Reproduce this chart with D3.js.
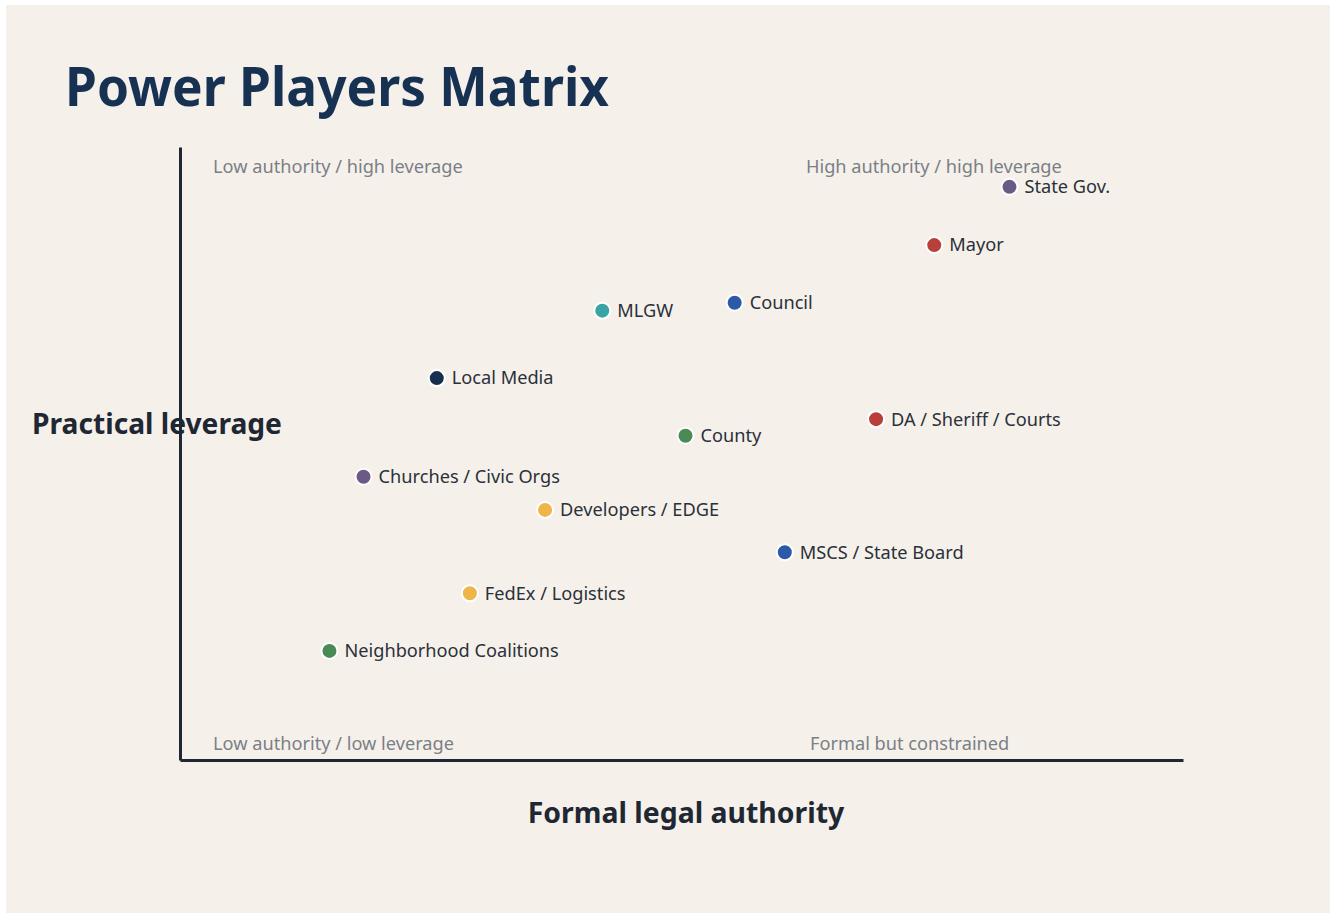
<!DOCTYPE html>
<html>
<head>
<meta charset="utf-8">
<script src="https://cdn.jsdelivr.net/npm/d3@7"></script>
<style>
  html, body { margin: 0; padding: 0; background: #ffffff; }
  #chart { position: absolute; left: 6px; top: 5px; }
  text { font-family: "Noto Sans", "Open Sans", sans-serif; }
</style>
</head>
<body>
<div id="chart"></div>
<script>
const players = ["State Gov.", "Mayor", "Council", "MLGW", "Local Media", "DA / Sheriff / Courts", "County",
  "Churches / Civic Orgs", "Developers / EDGE", "MSCS / State Board", "FedEx / Logistics", "Neighborhood Coalitions"];
const authority = [8.27, 7.52, 5.53, 4.21, 2.56, 6.94, 5.04, 1.83, 3.64, 6.03, 2.89, 1.49];
const leverage  = [9.35, 8.40, 7.46, 7.33, 6.23, 5.56, 5.29, 4.62, 4.08, 3.39, 2.72, 1.78];
const colors = ["#6b5a85", "#b83f3a", "#2d5aa8", "#3aa3a4", "#172e4c", "#b83f3a", "#4a8a57",
  "#6b5a85", "#efb548", "#2d5aa8", "#efb548", "#4a8a57"];
const quadrantLabels = ["Low authority / high leverage", "High authority / high leverage",
  "Low authority / low leverage", "Formal but constrained"];
const title = "Power Players Matrix";
const xTitle = "Formal legal authority";
const yTitle = "Practical leverage";

const W = 1324, H = 908;
const svg = d3.select("#chart").append("svg").attr("width", W).attr("height", H);
svg.append("rect").attr("width", W).attr("height", H).attr("fill", "#f5f1ea");

// plot area in svg coords (page coords minus offset 6,5)
const pLeft = 174, pRight = 1177, pTop = 142, pBottom = 755;
const x = d3.scaleLinear().domain([0, 10]).range([pLeft, pRight]);
const y = d3.scaleLinear().domain([0, 10]).range([pBottom, pTop]);

svg.append("text").attr("x", 59).attr("y", 101)
  .attr("font-size", 53).attr("font-weight", 700).attr("fill", "#173152")
  .attr("textLength", 544).attr("lengthAdjust", "spacingAndGlyphs").text(title);

// axes
const xAxis = d3.axisBottom(x).tickValues([]).tickSizeOuter(0);
const yAxis = d3.axisLeft(y).tickValues([]).tickSizeOuter(0);
svg.append("g").attr("transform", `translate(0,${pBottom})`).call(xAxis)
  .select(".domain").attr("stroke", "#1f2733").attr("stroke-width", 3);
svg.append("g").attr("transform", `translate(${pLeft},0)`).call(yAxis)
  .select(".domain").attr("stroke", "#1f2733").attr("stroke-width", 3);

// quadrant labels
const qPos = [[pLeft + 33, pTop + 26], [pLeft + 626, pTop + 26], [pLeft + 33, pBottom - 10], [pLeft + 630, pBottom - 10]];
svg.selectAll("text.q").data(quadrantLabels).join("text").attr("class", "q")
  .attr("x", (d, i) => qPos[i][0]).attr("y", (d, i) => qPos[i][1])
  .attr("font-size", 18.2).attr("fill", "#7b7f87").text(d => d);

// points
const data = players.map((p, i) => ({ name: p, a: authority[i], l: leverage[i], c: colors[i] }));
const g = svg.append("g");
g.selectAll("circle").data(data).join("circle")
  .attr("cx", d => x(d.a)).attr("cy", d => y(d.l)).attr("r", 8)
  .attr("fill", d => d.c).attr("stroke", "#ffffff").attr("stroke-width", 2);
g.selectAll("text").data(data).join("text")
  .attr("x", d => x(d.a) + 15).attr("y", d => y(d.l)).attr("dy", "0.35em")
  .attr("font-size", 18.2).attr("fill", "#2b303a").text(d => d.name);

// axis titles
svg.append("text").attr("x", 680).attr("y", 818).attr("text-anchor", "middle")
  .attr("font-size", 28.4).attr("font-weight", 700).attr("fill", "#1f2733").text(xTitle);
svg.append("text").attr("x", 26).attr("y", 429)
  .attr("font-size", 28.2).attr("font-weight", 700).attr("fill", "#1f2733").text(yTitle);
</script>
</body>
</html>
